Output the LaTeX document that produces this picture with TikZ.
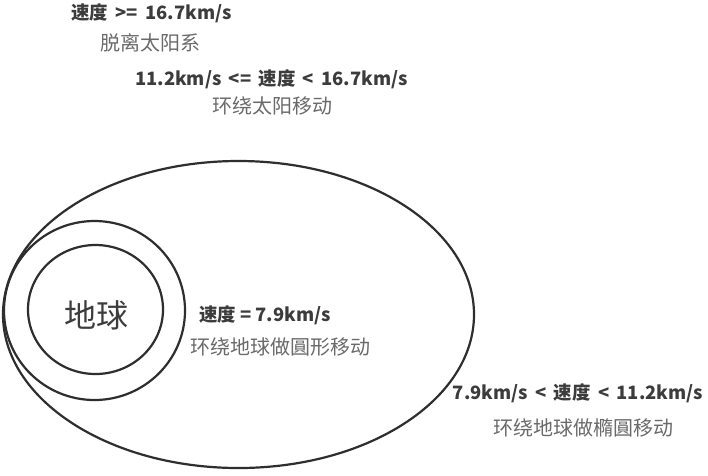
\documentclass[tikz,border=0pt]{standalone}
\usepackage{fontspec}
\newfontfamily\cjk{Noto Sans CJK SC}
\usetikzlibrary{shapes.geometric}
\definecolor{linec}{HTML}{2E2E2E}
\definecolor{boldc}{HTML}{3C3C3C}
\definecolor{greyc}{HTML}{6A6A6A}
\newcommand{\gapp}{\hspace{0.4em}}
\tikzset{
  orbit/.style={draw=linec, line width=2.2pt, ellipse, inner sep=0pt, outer sep=0pt},
  cond/.style={text=boldc, font=\cjk\bfseries\fontsize{18.4}{20}\selectfont, inner sep=0pt, anchor=center},
  desc/.style={text=greyc, font=\cjk\fontsize{20}{22}\selectfont, inner sep=0pt, anchor=center},
}
\begin{document}
\begin{tikzpicture}[x=1pt,y=-1pt]
\useasboundingbox (0,0) rectangle (708,475);
\fill[white] (0,0) rectangle (708,475);
\node[orbit, minimum width=471pt, minimum height=307pt] (big) at (238.5,314.5) {};
\node[orbit, minimum width=181pt, minimum height=179pt] (mid) at (94.5,310.5) {};
\node[orbit, minimum width=135pt, minimum height=129pt] (earth) at (95.5,309.5) {};
\node[text=boldc, font=\cjk\fontsize{32}{34}\selectfont, inner sep=0pt] (earthlbl) at (96,315) {地球};
\node[cond] (c1) at (151.5,13) {速度\gapp{}>=\gapp{}16.7km/s};
\node[desc] (d1) at (150.5,43) {脱离太阳系};
\node[cond] (c2) at (271.5,79) {11.2km/s\gapp{}<=\gapp{}速度\gapp{}<\gapp{}16.7km/s};
\node[desc] (d2) at (272.5,106) {环绕太阳移动};
\node[cond] (c3) at (265,315) {速度 = 7.9km/s};
\node[desc] (d3) at (280,347) {环绕地球做圓形移动};
\node[cond] (c4) at (578,393) {7.9km/s\gapp{}<\gapp{}速度\gapp{}<\gapp{}11.2km/s};
\node[desc] (d4) at (583.5,428) {环绕地球做橢圓移动};
\end{tikzpicture}
\end{document}
